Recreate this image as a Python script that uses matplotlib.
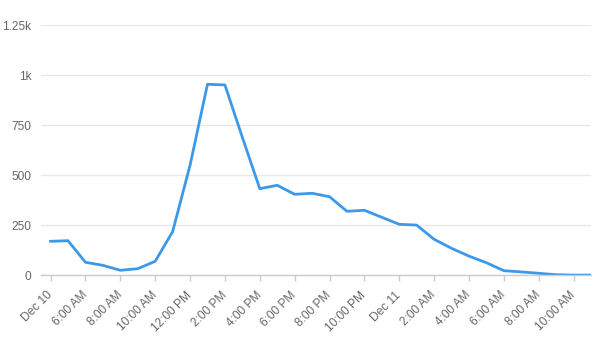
import matplotlib
matplotlib.use("Agg")
import matplotlib.pyplot as plt
import pandas as pd

plt.rcParams["font.family"] = ["Liberation Sans", "DejaVu Sans"]

# Hourly series starting Dec 10, 4:00 AM
start = "2023-12-10 04:00"
values = [170, 173, 65, 50, 25, 33, 70, 218, 550, 955, 952, 690,
          433, 450, 405, 410, 393, 320, 325, 290, 255, 251, 180, 135,
          96, 63, 23, 17, 10, 3, 1, 1]
times = pd.date_range(start, periods=len(values), freq="h")

tick_labels = ["Dec 10", "6:00 AM", "8:00 AM", "10:00 AM", "12:00 PM", "2:00 PM",
               "4:00 PM", "6:00 PM", "8:00 PM", "10:00 PM", "Dec 11", "2:00 AM",
               "4:00 AM", "6:00 AM", "8:00 AM", "10:00 AM"]
y_ticks = [0, 250, 500, 750, 1000, 1250]
y_labels = ["0", "250", "500", "750", "1k", "1.25k"]

fig = plt.figure(figsize=(5.99, 3.43), dpi=100)
ax = fig.add_axes([41/599, 1 - 275.3/343, (591 - 41)/599, (275.3 - 25.3)/343])

ax.plot(times, values, color="#3c99ea", linewidth=2, solid_joinstyle="round")

tick_pos = times[::2][:len(tick_labels)]
ax.set_xticks(tick_pos)
ax.set_xticklabels(tick_labels, rotation=45, ha="right", va="center",
                   rotation_mode="anchor", fontsize=8.6, color="#666666")
hour = pd.Timedelta(hours=1)
ax.set_xlim(times[0] - 0.55 * hour, times[-1])

ax.set_ylim(0, 1250)
ax.set_yticks(y_ticks)
ax.set_yticklabels(y_labels, fontsize=8.6, color="#666666")
ax.tick_params(axis="y", length=0, pad=7)
ax.tick_params(axis="x", length=4, width=1, color="#cccccc", pad=9)

ax.grid(axis="y", color="#e8e8e8", linewidth=1)
ax.set_axisbelow(True)
for s in ["top", "right", "left"]:
    ax.spines[s].set_visible(False)
ax.spines["bottom"].set_color("#cccccc")
ax.spines["bottom"].set_linewidth(1)

fig.savefig("out.png", dpi=100)
